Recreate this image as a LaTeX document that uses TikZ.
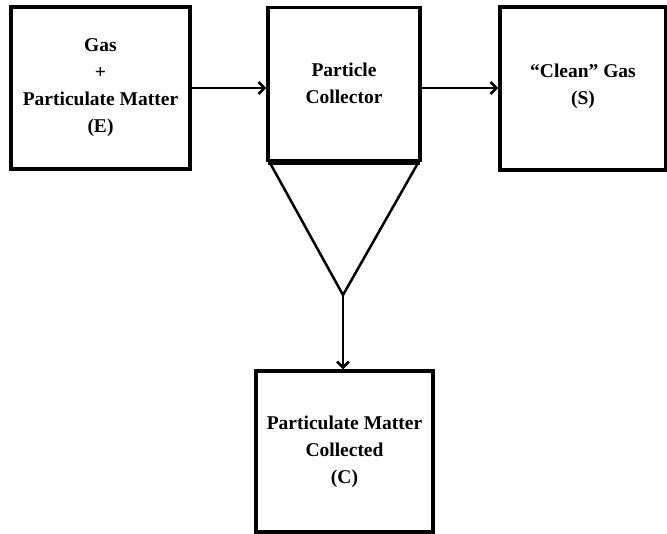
\documentclass[tikz,border=0pt]{standalone}
\usepackage{fontspec}
\setmainfont{Liberation Serif}
\usetikzlibrary{arrows.meta}
\begin{document}
\begin{tikzpicture}[x=1pt,y=-1pt,
  lbl/.style={align=center,font=\bfseries\fontsize{19.5}{27}\selectfont},
  box/.style={draw,line width=3.2pt,rectangle,inner sep=0pt,lbl},
  flow/.style={line width=2.6pt,-{Straight Barb[length=6pt,width=12pt,line width=2.6pt]}}]
\useasboundingbox (0,0) rectangle (667,534);
\node[box,minimum width=179pt,minimum height=162pt] (feed) at (100.5,88) {Gas\\+\\Particulate Matter\\(E)};
\node[box,minimum width=152pt,minimum height=153pt] (coll) at (344,84) {};
\node[lbl] (colltxt) at (344,83) {Particle\\Collector};
\node[box,minimum width=166pt,minimum height=163pt] (clean) at (583,88.5) {};
\node[lbl] (cleantxt) at (583,86) {``Clean'' Gas\\(S)};
\node[box,minimum width=177pt,minimum height=161pt] (pm) at (344.5,451.5) {Particulate Matter\\Collected\\(C)};
\coordinate (hl) at (268,163);
\coordinate (hr) at (420,163);
\coordinate (tl) at (270,163);
\coordinate (tr) at (418,163);
\coordinate (apex) at (343,295);
\draw[line width=4.5pt] (hl) -- (hr);
\draw[line width=2.5pt,line join=miter] (tl) -- (apex) -- (tr);
\draw[flow] (feed.east |- 0,88) -- (coll.west |- 0,88);
\draw[flow] (coll.east |- 0,88) -- (clean.west |- 0,88);
\draw[flow] (apex) -- (pm.north -| apex);
\end{tikzpicture}
\end{document}
